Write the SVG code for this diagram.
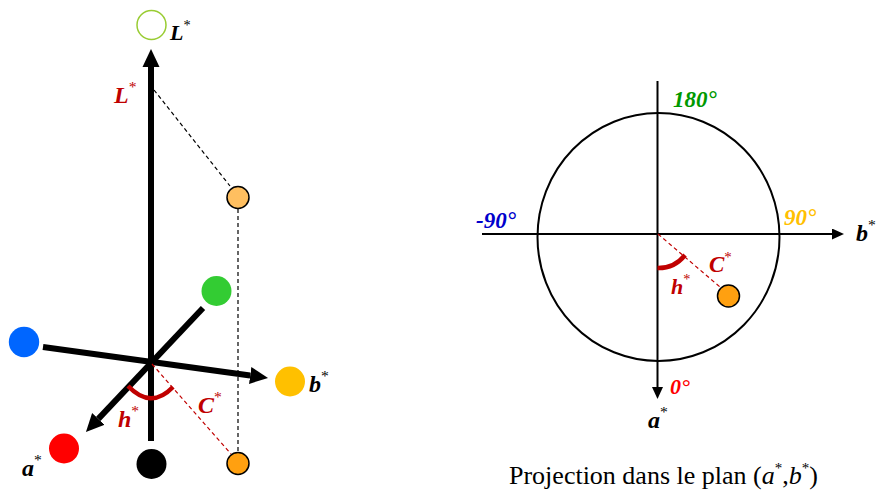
<svg xmlns="http://www.w3.org/2000/svg" width="876" height="493" viewBox="0 0 876 493">
<defs>
<marker id="bigArrow" markerUnits="userSpaceOnUse" markerWidth="18" markerHeight="18" refX="0" refY="8.5" orient="auto" viewBox="0 0 18 17">
<path d="M0,0 L18,8.5 L0,17 z" fill="#000"/>
</marker>
<marker id="smallArrow" markerUnits="userSpaceOnUse" markerWidth="12" markerHeight="11" refX="0" refY="5.5" orient="auto" viewBox="0 0 12 11">
<path d="M0,0 L12,5.5 L0,11 z" fill="#000"/>
</marker>
</defs>
<style>
.lab{font-family:"Liberation Serif","Times New Roman",serif;font-weight:bold;font-style:italic;}
.star{font-size:65%;font-weight:normal;font-style:normal;}
.axis{stroke:#000;stroke-width:6;fill:none;}
.thin{stroke:#000;stroke-width:2;fill:none;}
.dash{stroke:#000;stroke-width:1.2;stroke-dasharray:4 3;fill:none;}
.rdash{stroke:#c00000;stroke-width:1.2;stroke-dasharray:4 3;fill:none;}
.arc{stroke:#c00000;stroke-width:4.5;fill:none;}
.red{fill:#c00000;}
.cap{font-family:"Liberation Serif","Times New Roman",serif;font-size:26px;fill:#000;}
</style>
<rect width="876" height="493" fill="#fff"/>

<!-- Left 3D diagram connectors -->
<g id="left-connectors">
<line class="dash" x1="154" y1="90" x2="230" y2="186"/>
<line class="dash" x1="238" y1="209" x2="238" y2="452"/>
<line class="axis" x1="151" y1="441" x2="151" y2="67" marker-end="url(#bigArrow)"/>
<line class="axis" x1="43" y1="347" x2="250.2" y2="375.5" marker-end="url(#bigArrow)"/>
<line class="axis" x1="203" y1="308" x2="98.3" y2="418.9" marker-end="url(#bigArrow)"/>
<line class="rdash" x1="152" y1="364" x2="231" y2="454"/>
<path class="arc" d="M128,386 Q151,410 173,387"/>
</g>

<g id="node-Ltop">
<circle cx="151.5" cy="25" r="14.5" fill="#fff" stroke="#99cc33" stroke-width="1.5"/>
<text class="lab" x="170" y="40" font-size="22" fill="#000">L<tspan class="star" dy="-10">*</tspan></text>
</g>
<g id="node-Lred">
<text class="lab red" x="114" y="103" font-size="24">L<tspan class="star" dy="-11">*</tspan></text>
</g>
<g id="node-point-light">
<circle cx="238" cy="197.5" r="11" fill="#ffbf60" stroke="#000" stroke-width="1.5"/>
</g>
<g id="node-green">
<circle cx="216.5" cy="291" r="15" fill="#33cc33"/>
</g>
<g id="node-blue">
<circle cx="24" cy="342" r="15.2" fill="#0066ff"/>
</g>
<g id="node-yellow">
<circle cx="290" cy="381.5" r="15" fill="#ffc000"/>
<text class="lab" x="309" y="391.5" font-size="24" fill="#000">b<tspan class="star" dy="-11">*</tspan></text>
</g>
<g id="node-red">
<circle cx="64" cy="448.5" r="15" fill="#ff0000"/>
<text class="lab" x="22" y="475.5" font-size="24" fill="#000">a<tspan class="star" dy="-11">*</tspan></text>
</g>
<g id="node-black">
<circle cx="151.5" cy="464" r="15" fill="#000"/>
</g>
<g id="node-point-proj">
<circle cx="238" cy="463.5" r="11" fill="#ffa010" stroke="#000" stroke-width="1.5"/>
</g>
<g id="label-h-left">
<text class="lab red" x="118" y="426.5" font-size="24">h<tspan class="star" dy="-11">*</tspan></text>
</g>
<g id="label-C-left">
<text class="lab red" x="198" y="413" font-size="24">C<tspan class="star" dy="-11">*</tspan></text>
</g>

<!-- Right projection -->
<g id="right-connectors">
<ellipse cx="658.5" cy="237" rx="121" ry="124" fill="none" stroke="#000" stroke-width="2"/>
<line class="thin" x1="657.5" y1="81" x2="657.5" y2="387" marker-end="url(#smallArrow)"/>
<line class="thin" x1="482" y1="234" x2="832" y2="234" marker-end="url(#smallArrow)"/>
<line class="rdash" x1="658" y1="234" x2="720" y2="287"/>
<path class="arc" d="M657.5,268 A34,34 0 0 0 685,255"/>
</g>
<g id="label-180">
<text class="lab" x="673" y="106.5" font-size="23" fill="#009900">180°</text>
</g>
<g id="label-m90">
<text class="lab" x="476" y="228" font-size="23" fill="#0000cc">-90°</text>
</g>
<g id="label-90">
<text class="lab" x="784" y="225" font-size="23" fill="#ffc000">90°</text>
</g>
<g id="label-b-right">
<text class="lab" x="856" y="241" font-size="24" fill="#000">b<tspan class="star" dy="-11">*</tspan></text>
</g>
<g id="label-0">
<text class="lab" x="670" y="394" font-size="22" fill="#ff0000">0°</text>
</g>
<g id="label-a-right">
<text class="lab" x="648" y="428" font-size="24" fill="#000">a<tspan class="star" dy="-11">*</tspan></text>
</g>
<g id="label-C-right">
<text class="lab red" x="709" y="271.5" font-size="23">C<tspan class="star" dy="-10">*</tspan></text>
</g>
<g id="label-h-right">
<text class="lab red" x="671" y="294" font-size="22">h<tspan class="star" dy="-10">*</tspan></text>
</g>
<g id="node-point-right">
<circle cx="728.5" cy="296" r="11" fill="#ffa010" stroke="#000" stroke-width="1.5"/>
</g>
<g id="caption">
<text class="cap" x="509" y="484">Projection dans le plan (<tspan font-style="italic">a</tspan><tspan font-size="15" dy="-11">*</tspan><tspan dy="11">,</tspan><tspan font-style="italic">b</tspan><tspan font-size="15" dy="-11">*</tspan><tspan dy="11">)</tspan></text>
</g>
</svg>
